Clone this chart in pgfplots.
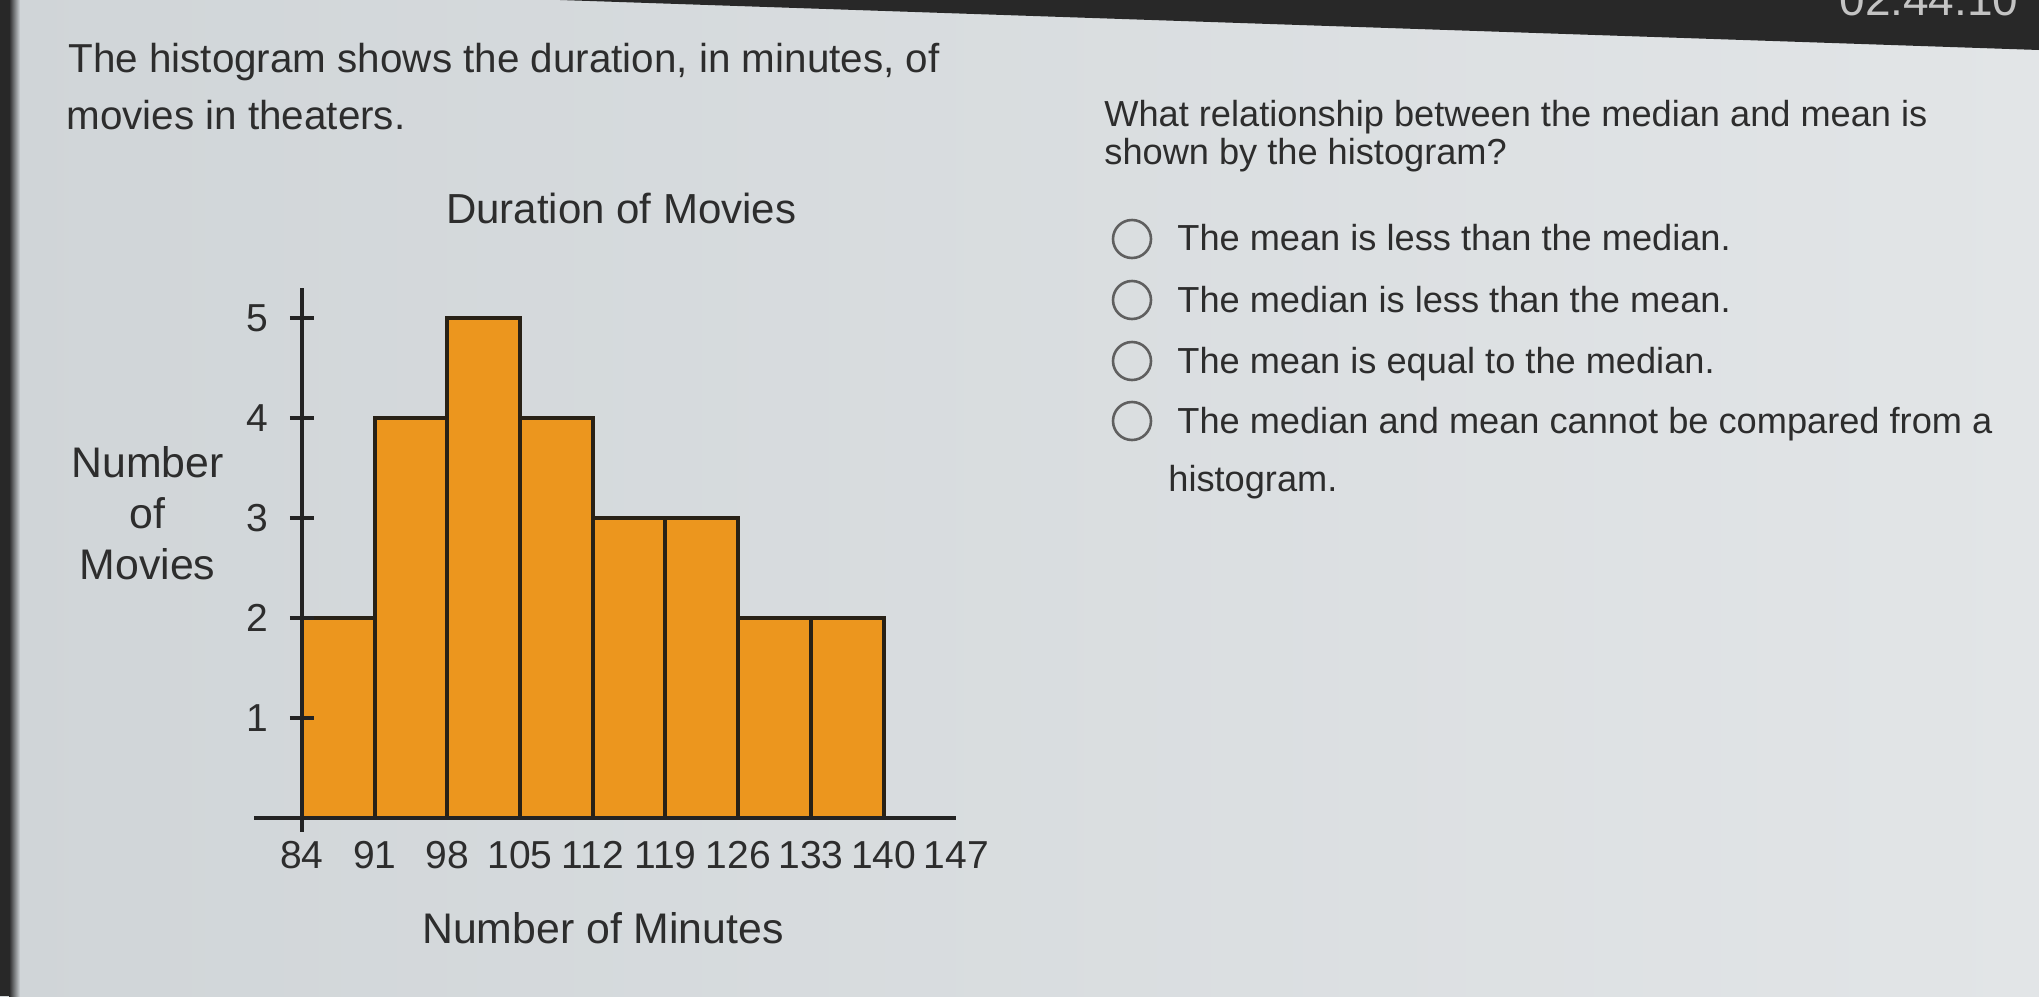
\documentclass[border=0pt]{standalone}
\usepackage{pgfplots}
\pgfplotsset{compat=1.18}
\usepackage{fontspec}
\setmainfont{Liberation Sans}
\definecolor{bgL}{RGB}{208,213,216}
\definecolor{bgR}{RGB}{226,229,231}
\definecolor{band}{RGB}{40,40,40}
\definecolor{txt}{RGB}{45,45,45}
\definecolor{circ}{RGB}{95,95,95}
\definecolor{barfill}{RGB}{236,150,30}
\definecolor{barline}{RGB}{40,33,22}
\definecolor{axisc}{RGB}{35,35,35}
\definecolor{timer}{RGB}{195,195,195}

\pgfplotstableread{
x y
84 2
91 4
98 5
105 4
112 3
119 3
126 2
133 2
140 2
}\histdata

\begin{document}
\begin{tikzpicture}
\useasboundingbox (0pt,0pt) rectangle (1019.5pt,-498pt);
\clip (0pt,0pt) rectangle (1019.5pt,-498pt);
\begin{scope}[x=0.5pt,y=-0.5pt]
\shade[left color=bgL, right color=bgR] (0,0) rectangle (2039,996);
\fill[band] (560,0) -- (2039,0) -- (2039,50) -- (560,0) -- cycle;
\fill[band] (0,0) rectangle (9,996);
\shade[left color=band, right color=bgL] (9,0) rectangle (20,996);
\node[anchor=base west, inner sep=0, text=timer, font=\fontsize{23}{23}\selectfont] at (1839,15) {02:44:10};

% left paragraph
\node[anchor=base west, inner sep=0, text=txt, font=\fontsize{20.2}{24}\selectfont] at (68,72) {The histogram shows the duration, in minutes, of};
\node[anchor=base west, inner sep=0, text=txt, font=\fontsize{20.2}{24}\selectfont] at (66,129) {movies in theaters.};

% right question
\node[anchor=base west, inner sep=0, text=txt, font=\fontsize{18.1}{22}\selectfont] at (1104,126) {What relationship between the median and mean is};
\node[anchor=base west, inner sep=0, text=txt, font=\fontsize{18.1}{22}\selectfont] at (1104,164) {shown by the histogram?};

\foreach \cy/\by/\t in {239/250/{The mean is less than the median.},300/312/{The median is less than the mean.},361/373/{The mean is equal to the median.},421/433/{The median and mean cannot be compared from a}}{
  \draw[line width=1.3pt, draw=circ] (1132,\cy) circle[radius=19];
  \node[anchor=base west, inner sep=0, text=txt, font=\fontsize{18.1}{22}\selectfont] at (1177,\by) {\t};
}
\node[anchor=base west, inner sep=0, text=txt, font=\fontsize{18.1}{22}\selectfont] at (1168,491) {histogram.};
\end{scope}

\begin{axis}[
  at={(151pt,-409pt)}, anchor=south west,
  scale only axis, width=327.15pt, height=265pt,
  xmin=84, xmax=147, ymin=0, ymax=5.3,
  axis x line=bottom, axis y line=left,
  axis line style={-, line width=2.2pt, draw=axisc},
  axis on top,
  clip=false,
  xtick={84,91,98,105,112,119,126,133,140,147},
  ytick={1,2,3,4,5},
  xtick style={draw=none},
  ytick style={line width=1.6pt, draw=axisc},
  tick align=center,
  major tick length=12pt,
  ticklabel style={font=\fontsize{19.5}{19.5}\selectfont, text=txt},
  /pgf/number format/assume math mode=true,
  xticklabel style={anchor=base, yshift=-19pt, inner sep=0pt},
  yticklabel style={anchor=east, inner sep=0pt, xshift=-10.5pt},
  xlabel={Number of Minutes},
  xlabel style={at={(axis description cs:0.46,-0.236)}, anchor=base, inner sep=0pt, font=\fontsize{21.4}{21.4}\selectfont, text=txt},
  ylabel={Number\\of\\Movies},
  ylabel style={rotate=-90, at={(axis description cs:-0.236,0.5755)}, anchor=center, align=center, font=\fontsize{21.4}{25.5}\selectfont, text=txt},
  title={Duration of Movies},
  title style={at={(axis description cs:0.488,1.1)}, anchor=base, inner sep=0pt, font=\fontsize{21}{21}\selectfont, text=txt},
]
\addplot[ybar interval, fill=barfill, draw=barline, line width=2pt] table[x=x,y=y] {\histdata};
\draw[line width=2.2pt, draw=axisc] (axis cs:79.4,0) -- (axis cs:84,0);
\draw[line width=2.2pt, draw=axisc] (axis cs:84,0) -- (axis cs:84,-0.14);
\end{axis}
\end{tikzpicture}
\end{document}
